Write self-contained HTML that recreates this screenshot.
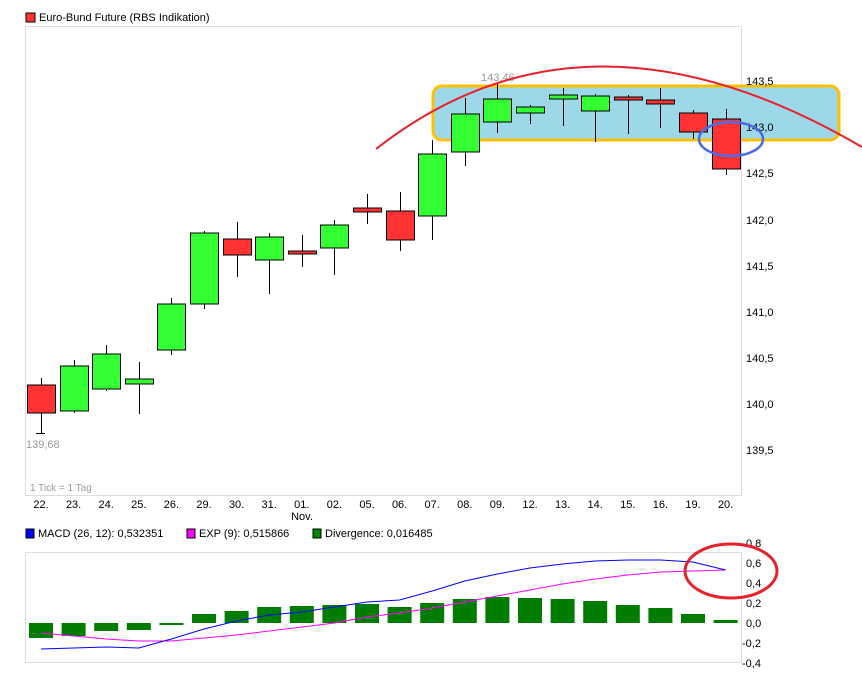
<!DOCTYPE html>
<html><head><meta charset="utf-8"><style>
html,body{margin:0;padding:0;background:#fff;}
svg{display:block;font-family:"Liberation Sans",sans-serif;}
</style></head><body>
<svg id="s" width="862" height="682" xmlns="http://www.w3.org/2000/svg">
<rect x="0" y="0" width="862" height="682" fill="#fff"/>
<rect x="26" y="13" width="9" height="9" fill="#f33" stroke="#000" stroke-width="1"/>
<text x="39" y="21" font-size="11">Euro-Bund Future (RBS Indikation)</text>
<rect x="25.5" y="26.5" width="716" height="469" fill="none" stroke="#ddd"/>
<rect x="433" y="86" width="406" height="54" rx="9" fill="#9dd8e9" stroke="#ffc000" stroke-width="3"/>
<g id="cand"></g>
<text x="26" y="448" font-size="11" fill="#999">139,68</text>
<text x="481" y="81" font-size="11" fill="#999">143,46</text>
<text x="30" y="491" font-size="10" fill="#999">1 Tick = 1 Tag</text>
<g font-size="11" fill="#000">
<text x="746" y="85">143,5</text><text x="746" y="131">143,0</text><text x="746" y="177">142,5</text>
<text x="746" y="224">142,0</text><text x="746" y="270">141,5</text><text x="746" y="316">141,0</text>
<text x="746" y="362">140,5</text><text x="746" y="408">140,0</text><text x="746" y="454">139,5</text>
</g>
<g id="dates" font-size="11" text-anchor="middle"></g>
<text x="302" y="520" font-size="11" text-anchor="middle">Nov.</text>
<path d="M376,149 Q585,-15 862,147" fill="none" stroke="#e8202a" stroke-width="2"/>
<ellipse cx="731" cy="139" rx="32" ry="17" fill="none" stroke="#4a6ae8" stroke-width="2.5"/>
<!-- MACD -->
<rect x="26" y="529" width="8" height="9" fill="#00f" stroke="#000" stroke-width="1"/>
<text x="38" y="537" font-size="11">MACD (26, 12): 0,532351</text>
<rect x="187" y="529" width="8" height="9" fill="#f0f" stroke="#000" stroke-width="1"/>
<text x="199" y="537" font-size="11">EXP (9): 0,515866</text>
<rect x="313" y="529" width="8" height="9" fill="#080" stroke="#000" stroke-width="1"/>
<text x="325" y="537" font-size="11">Divergence: 0,016485</text>
<rect x="25.5" y="552.5" width="716" height="110" fill="none" stroke="#ddd"/>
<g font-size="11">
<text x="746" y="547">0,8</text><text x="746" y="567">0,6</text><text x="746" y="587">0,4</text>
<text x="746" y="607">0,2</text><text x="746" y="627">0,0</text><text x="742" y="647">-0,2</text><text x="742" y="667">-0,4</text>
</g>
<g id="macd"></g>
<ellipse cx="731" cy="571" rx="46" ry="27" fill="none" stroke="#e8202a" stroke-width="3"/>
</svg>
<script>
var NS="http://www.w3.org/2000/svg";
function el(p,t,a,txt){var e=document.createElementNS(NS,t);for(var k in a)e.setAttribute(k,a[k]);if(txt)e.textContent=txt;p.appendChild(e);return e;}
var xs=[],labels=["22.","23.","24.","25.","26.","29.","30.","31.","01.","02.","05.","06.","07.","08.","09.","12.","13.","14.","15.","16.","19.","20."];
for(var i=0;i<22;i++)xs.push(41+i*32.6);
// [bodyTop, bodyBot, wickTop, wickBot, green]
var c=[[385,413,378,433,0],[366,411,360,413,1],[354,389,345,391,1],[379,384,362,414,1],[304,350,298,355,1],[233,304,231,309,1],[239,255,222,277,0],[237,260,233,294,1],[251,254,235,267,0],[225,248,220,275,1],[208,212,194,224,0],[211,240,192,251,0],[154,216,140,240,1],[114,152,98,166,1],[99,122,84,133,1],[107,113,105,124,1],[95,99,88,126,1],[96,111,94,142,1],[97,100,95,134,0],[100,104,88,128,0],[113,132,110,139,0],[119,169,109,175,0]];
var g=document.getElementById("cand"),d=document.getElementById("dates");
for(var i=0;i<22;i++){var x=Math.round(xs[i])+0.5,k=c[i];
el(g,"line",{x1:x,x2:x,y1:k[2],y2:k[3],stroke:"#000","stroke-width":1});
el(g,"rect",{x:x-14,y:k[0],width:28,height:Math.max(k[1]-k[0],3),fill:k[4]?"#3f3":"#f33",stroke:"#000","stroke-width":1});
el(d,"text",{x:xs[i],y:508},labels[i]);}
el(g,"line",{x1:36,x2:45,y1:433.5,y2:433.5,stroke:"#000"});
var dv=[-0.15,-0.13,-0.08,-0.07,-0.02,0.09,0.12,0.16,0.17,0.18,0.19,0.16,0.2,0.24,0.26,0.25,0.24,0.22,0.18,0.15,0.09,0.03];
var mc=[-0.26,-0.25,-0.24,-0.25,-0.16,-0.06,0.02,0.08,0.11,0.16,0.21,0.23,0.32,0.42,0.49,0.55,0.59,0.62,0.63,0.63,0.61,0.53];
var ex=[-0.1,-0.13,-0.16,-0.18,-0.18,-0.15,-0.12,-0.08,-0.04,0.0,0.06,0.1,0.15,0.21,0.27,0.33,0.39,0.44,0.48,0.51,0.52,0.53];
var m=document.getElementById("macd");
function Y(v){return 623-v*100;}
for(var i=0;i<22;i++){var y0=Y(0),y1=Y(dv[i]);el(m,"rect",{x:xs[i]-12,y:Math.min(y0,y1),width:24,height:Math.max(Math.abs(y1-y0),2),fill:"#007d00"});}
var p1="",p2="";for(var i=0;i<22;i++){p1+=(i?"L":"M")+xs[i]+","+Y(mc[i]);p2+=(i?"L":"M")+xs[i]+","+Y(ex[i]);}
el(m,"path",{d:p2,fill:"none",stroke:"#f0f","stroke-width":1});
el(m,"path",{d:p1,fill:"none",stroke:"#00f","stroke-width":1});
</script>
</body></html>
